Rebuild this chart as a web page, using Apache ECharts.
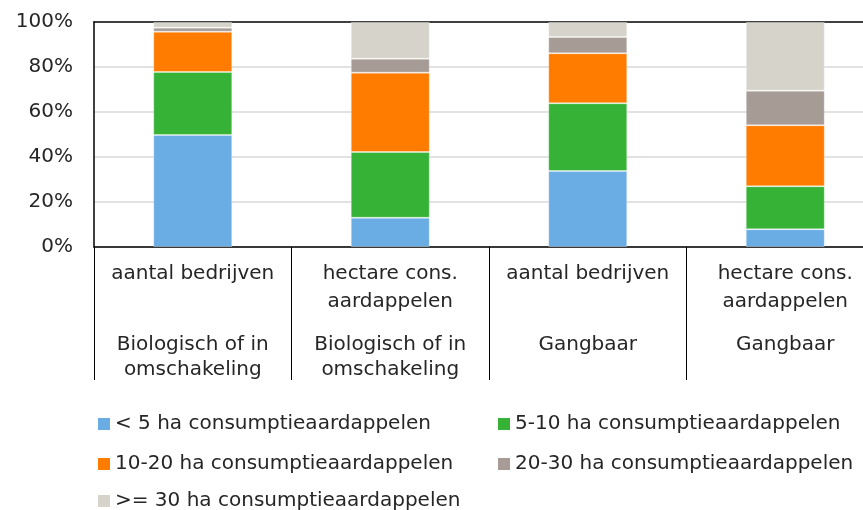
<!DOCTYPE html>
<html>
<head>
<meta charset="utf-8">
<script src="https://cdn.jsdelivr.net/npm/echarts@6/dist/echarts.min.js"></script>
<style>
  html, body { margin: 0; padding: 0; background: #fff; }
  #chart { width: 863px; height: 510px; }
</style>
</head>
<body>
<div id="chart"></div>
<script>
  // labels onder de as: bovenste regel = maatstaf, onderste = groep
  var measures = ['aantal bedrijven', 'hectare cons.\naardappelen', 'aantal bedrijven', 'hectare cons.\naardappelen']
  var groups = ['Biologisch of in\nomschakeling', 'Biologisch of in\nomschakeling', 'Gangbaar', 'Gangbaar']
  var yTicks = [0, 20, 40, 60, 80, 100]

  var seriesNames = [
    '< 5 ha consumptieaardappelen',
    '5-10 ha consumptieaardappelen',
    '10-20 ha consumptieaardappelen',
    '20-30 ha consumptieaardappelen',
    '>= 30 ha consumptieaardappelen'
  ]
  var lt5 = [49.8, 13.0, 33.8, 7.9]
  var ha5_10 = [28.0, 29.2, 30.1, 19.1]
  var ha10_20 = [17.9, 35.3, 22.2, 27.1]
  var ha20_30 = [1.8, 6.2, 7.2, 15.4]
  var ge30 = [2.5, 16.3, 6.7, 30.5]

  var colors = ['#6aade4', '#36b236', '#ff7c00', '#a69c95', '#d6d3ca']
  var font = 'Verdana, "DejaVu Sans", sans-serif'
  var fontSize = 20
  var textColor = '#262626'

  var categories = measures.map(function (m, i) { return m + '|' + groups[i] })

  function twoLines (s, tag) {
    var parts = s.split('\n')
    if (parts.length < 2) parts.push(' ')
    return parts.map(function (p) { return '{' + tag + '|' + p + '}' }).join('\n')
  }

  var values = [lt5, ha5_10, ha10_20, ha20_30, ge30]
  var series = values.map(function (v, i) {
    return {
      name: seriesNames[i],
      type: 'bar',
      stack: 'totaal',
      barWidth: '40%',
      data: v,
      itemStyle: { color: colors[i], borderColor: 'rgba(255,255,255,0.3)', borderWidth: 1 }
    }
  })

  // legenda in twee kolommen, één legend per item
  var legendPos = [[98, 414], [498, 414], [98, 454], [498, 454], [98, 491]]
  var legends = seriesNames.map(function (n, i) {
    return {
      data: [n],
      left: legendPos[i][0],
      top: legendPos[i][1],
      padding: 0,
      itemWidth: 12,
      itemHeight: 12,
      itemGap: 0,
      icon: 'rect',
      selectedMode: false,
      itemStyle: { borderWidth: 0 },
      textStyle: { fontFamily: font, fontSize: fontSize, color: textColor }
    }
  })

  var chart = echarts.init(document.getElementById('chart'))
  chart.setOption({
    animation: false,
    textStyle: { fontFamily: font },
    grid: {
      left: 94,
      top: 22,
      right: -21,
      height: 225,
      outerBoundsMode: 'none',
      containLabel: false
    },
    legend: legends,
    xAxis: [{
      type: 'category',
      data: categories,
      boundaryGap: true,
      axisLine: { lineStyle: { color: '#000', width: 1.5 } },
      axisTick: { show: true, interval: 0, length: 133, lineStyle: { color: '#000', width: 1 } },
      axisLabel: {
        interval: 0,
        margin: 13,
        color: textColor,
        formatter: function (v) {
          var p = v.split('|')
          return twoLines(p[0], 'a') + '\n{g| }\n' + twoLines(p[1], 'b')
        },
        rich: {
          a: { fontFamily: font, fontSize: fontSize, lineHeight: 28, color: textColor, align: 'center' },
          g: { fontSize: 8, lineHeight: 16 },
          b: { fontFamily: font, fontSize: fontSize, lineHeight: 25, color: textColor, align: 'center' }
        }
      }
    }, {
      // bovenrand van het plotvlak
      type: 'category',
      data: categories,
      position: 'top',
      axisLine: { show: true, lineStyle: { color: '#000', width: 1.5 } },
      axisTick: { show: false },
      axisLabel: { show: false }
    }],
    yAxis: {
      type: 'value',
      min: yTicks[0],
      max: yTicks[yTicks.length - 1],
      interval: 20,
      axisLine: { show: true, lineStyle: { color: '#000', width: 1.5 } },
      axisTick: { show: false },
      splitLine: { showMaxLine: false, lineStyle: { color: '#d9d9d9', width: 1.5 } },
      axisLabel: {
        margin: 21,
        fontFamily: font,
        fontSize: fontSize,
        color: textColor,
        formatter: '{value}%'
      }
    },
    series: series
  })
</script>
</body>
</html>
